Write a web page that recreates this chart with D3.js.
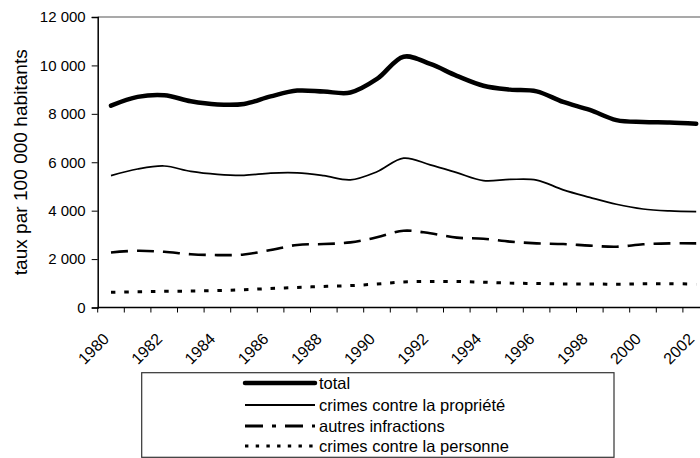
<!DOCTYPE html>
<html><head><meta charset="utf-8">
<script src="https://cdn.jsdelivr.net/npm/d3@7"></script>
<style>
body{margin:0;background:#fff;}
svg{display:block;font-family:"Liberation Sans",Arial,sans-serif;}
</style></head>
<body>
<svg id="chart" width="700" height="458"></svg>
<script>
const years = [1980,1981,1982,1983,1984,1985,1986,1987,1988,1989,1990,1991,1992,1993,1994,1995,1996,1997,1998,1999,2000,2001,2002];
const total = [8340,8700,8770,8520,8390,8410,8720,8960,8920,8880,9440,10360,10060,9570,9160,9000,8930,8490,8160,7740,7660,7640,7590];
const propriete = [5445,5720,5845,5620,5500,5460,5550,5560,5445,5275,5610,6170,5890,5570,5240,5290,5265,4860,4550,4265,4070,3990,3960];
const autres = [2275,2345,2300,2200,2165,2190,2375,2585,2620,2690,2900,3170,3065,2885,2840,2720,2650,2620,2555,2510,2610,2650,2650];
const personne = [630,650,670,680,700,735,785,830,870,905,970,1055,1075,1075,1045,1010,990,975,975,960,980,985,965];
const yTicks = [0,2000,4000,6000,8000,10000,12000];
const xLabelYears = [1980,1982,1984,1986,1988,1990,1992,1994,1996,1998,2000,2002];
const seriesNames = ["total","crimes contre la propriété","autres infractions","crimes contre la personne"];
const yTitle = "taux par 100 000 habitants";

const svg = d3.select("#chart");
const mLeft = 97.7, mRight = 709.5, mTop = 17, mBottom = 307.5;
const x = d3.scaleBand().domain(years).range([mLeft, mRight]);
const y = d3.scaleLinear().domain([0, 12000]).range([mBottom, mTop]);
const fmt = v => d3.format(",")(v).replace(/,/g, "\u00a0");

// plot area top border
svg.append("line").attr("x1", mLeft).attr("x2", mRight).attr("y1", mTop).attr("y2", mTop)
  .attr("stroke", "#8c8c8c").attr("stroke-width", 1.5);

// y axis
const yAxis = svg.append("g").attr("transform", `translate(${mLeft},0)`)
  .call(d3.axisLeft(y).tickValues(yTicks).tickFormat(fmt).tickSize(6).tickPadding(6));
yAxis.select(".domain").attr("stroke", "#000").attr("stroke-width", 1.5);
yAxis.selectAll(".tick line").attr("stroke", "#000").attr("stroke-width", 1);
yAxis.selectAll(".tick text").attr("font-size", 15).attr("fill", "#000")
  .attr("font-family", "Liberation Sans, Arial, sans-serif");

// x axis
const xa = svg.append("g");
xa.append("line").attr("x1", mLeft).attr("x2", mRight).attr("y1", mBottom).attr("y2", mBottom)
  .attr("stroke", "#000").attr("stroke-width", 1.5);
const tickPos = years.map(d => x(d)).concat([x(years[years.length-1]) + x.bandwidth()]);
xa.selectAll("line.tk").data(tickPos).join("line").attr("class","tk")
  .attr("x1", d => d).attr("x2", d => d).attr("y1", mBottom).attr("y2", mBottom + 5)
  .attr("stroke", "#000").attr("stroke-width", 1);
xa.selectAll("text").data(xLabelYears).join("text")
  .attr("transform", d => `translate(${x(d) + x.bandwidth()/2 - 1},340) rotate(-45)`)
  .attr("text-anchor", "end").attr("font-size", 16).attr("fill", "#000")
  .text(d => d);

// y title
svg.append("text").attr("transform", `translate(26.5,${(mTop+mBottom)/2}) rotate(-90)`)
  .attr("text-anchor", "middle").attr("font-size", 17.5).attr("fill", "#000")
  .attr("textLength", 226).attr("lengthAdjust", "spacingAndGlyphs").text(yTitle);

// lines
const cx = d => x(d) + x.bandwidth()/2;
const styles = [
  {w: 4.5, dash: null},
  {w: 1.7, dash: null},
  {w: 2.6, dash: "17,9"},
  {w: 3, dash: "4.5,8.8"}
];
const allSeries = [total, propriete, autres, personne];
const line = d3.line().x((d,i) => cx(years[i])).y(d => y(d)).curve(d3.curveCatmullRom.alpha(0.5));
allSeries.forEach((s, k) => {
  svg.append("path").datum(s).attr("d", line).attr("fill", "none")
    .attr("stroke", "#000").attr("stroke-width", styles[k].w)
    .attr("stroke-dasharray", styles[k].dash).attr("stroke-linecap", k === 0 ? "round" : "butt");
});

// legend
const lg = svg.append("g");
lg.append("rect").attr("x", 141.7).attr("y", 372.7).attr("width", 472.3).attr("height", 84.6)
  .attr("fill", "#fff").attr("stroke", "#333").attr("stroke-width", 1.2);
const legRows = [383, 405, 426, 446];
const legDash = [null, null, "18,9,4,9", "3.4,7.3"];
const legW = [4.5, 1.8, 2.8, 3];
seriesNames.forEach((n, k) => {
  lg.append("line").attr("x1", 245).attr("x2", 315).attr("y1", legRows[k]).attr("y2", legRows[k])
    .attr("stroke", "#000").attr("stroke-width", legW[k]).attr("stroke-dasharray", legDash[k])
    .attr("stroke-linecap", k === 0 ? "round" : "butt");
  lg.append("text").attr("x", 319).attr("y", legRows[k] + 6).attr("font-size", 16.5)
    .attr("fill", "#000").text(n);
});
</script>
</body></html>
